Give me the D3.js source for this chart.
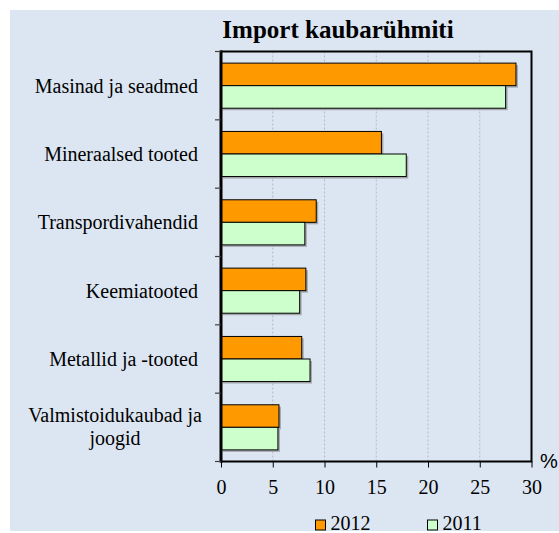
<!DOCTYPE html>
<html>
<head>
<meta charset="utf-8">
<script src="https://cdn.jsdelivr.net/npm/d3@7"></script>
<style>
  body { margin: 0; background: #fff; }
  svg text { font-family: "Liberation Serif", "DejaVu Serif", serif; fill: #000; }
</style>
</head>
<body>
<div id="chart"></div>
<script>
var categories = ["Masinad ja seadmed", "Mineraalsed tooted", "Transpordivahendid",
                  "Keemiatooted", "Metallid ja -tooted", "Valmistoidukaubad ja joogid"];
var years = ["2012", "2011"];
var values2012 = [28.5, 15.5, 9.2, 8.2, 7.8, 5.6];
var values2011 = [27.5, 17.9, 8.1, 7.6, 8.6, 5.5];
var xTicks = [0, 5, 10, 15, 20, 25, 30];

var serif = "'Liberation Serif', 'DejaVu Serif', serif";

var drawImportChart = function(id) {
  var width = 559, height = 533;
  var plot = {left: 221, right: 531.5, top: 51.5, bottom: 461.5};
  var colors = {"2012": "#ff9900", "2011": "#ccffcc"};

  var svg = d3.select(id).append("svg")
      .attr("width", width)
      .attr("height", height)
      .style("font-family", serif);

  // light blue panel
  svg.append("rect")
      .attr("x", 10).attr("y", 10)
      .attr("width", width - 10).attr("height", 521)
      .attr("fill", "#dce6f2");

  var x = d3.scaleLinear()
      .domain([0, 30])
      .range([plot.left, plot.right]);

  var y = d3.scaleBand()
      .domain(categories)
      .range([plot.top, plot.bottom])
      .paddingInner(0.34)
      .paddingOuter(0.17);

  var ySub = d3.scaleBand()
      .domain(years)
      .range([0, y.bandwidth()]);

  // dotted grid
  svg.selectAll(".grid")
      .data(xTicks.slice(1, -1))
    .enter().append("line")
      .attr("class", "grid")
      .attr("x1", function(d) { return x(d); })
      .attr("x2", function(d) { return x(d); })
      .attr("y1", plot.top)
      .attr("y2", plot.bottom)
      .attr("stroke", "#b8b8b8")
      .attr("stroke-dasharray", "2,2");

  var rows = categories.map(function(c, i) {
    return [{cat: c, year: "2012", value: values2012[i]},
            {cat: c, year: "2011", value: values2011[i]}];
  });
  var bars = [].concat.apply([], rows);

  // shadows
  svg.selectAll(".shadow")
      .data(bars)
    .enter().append("rect")
      .attr("class", "shadow")
      .attr("x", x(0) + 2)
      .attr("y", function(d) { return y(d.cat) + ySub(d.year) + 2; })
      .attr("width", function(d) { return x(d.value) - x(0); })
      .attr("height", ySub.bandwidth())
      .attr("fill", "#808080")
      .attr("opacity", 0.6);

  svg.selectAll(".bar")
      .data(bars)
    .enter().append("rect")
      .attr("class", "bar")
      .attr("x", x(0))
      .attr("y", function(d) { return y(d.cat) + ySub(d.year); })
      .attr("width", function(d) { return x(d.value) - x(0); })
      .attr("height", ySub.bandwidth())
      .attr("fill", function(d) { return colors[d.year]; })
      .attr("stroke", "#000")
      .attr("stroke-width", 1);

  // frame
  svg.append("rect")
      .attr("x", plot.left).attr("y", plot.top)
      .attr("width", plot.right - plot.left)
      .attr("height", plot.bottom - plot.top)
      .attr("fill", "none")
      .attr("stroke", "#000")
      .attr("stroke-width", 2);
  // heavier category axis line
  svg.append("line")
      .attr("x1", plot.left).attr("x2", plot.left)
      .attr("y1", plot.top - 1).attr("y2", plot.bottom + 1)
      .attr("stroke", "#000")
      .attr("stroke-width", 3);

  // category boundary ticks
  var bounds = d3.range(categories.length + 1).map(function(i) { return plot.top + i * y.step(); });
  svg.selectAll(".ytick")
      .data(bounds)
    .enter().append("line")
      .attr("class", "ytick")
      .attr("x1", plot.left - 6)
      .attr("x2", plot.left)
      .attr("y1", function(d) { return d; })
      .attr("y2", function(d) { return d; })
      .attr("stroke", "#404040")
      .attr("stroke-width", 1.2);

  // category labels
  categories.forEach(function(c) {
    var cy = y(c) + y.bandwidth() / 2;
    var lines = c === "Valmistoidukaubad ja joogid" ? ["Valmistoidukaubad ja", "joogid"] : [c];
    if (lines.length === 1) {
      svg.append("text")
          .attr("x", 198)
          .attr("y", cy + 7)
          .attr("text-anchor", "end")
          .style("font-size", "20px")
          .text(c);
    } else {
      var t = svg.append("text")
          .attr("x", 202)
          .attr("y", cy - 5)
          .attr("text-anchor", "end")
          .style("font-size", "20px")
          .text(lines[0]);
      var w = t.node().getComputedTextLength();
      svg.append("text")
          .attr("x", 202 - w / 2)
          .attr("y", cy + 18)
          .attr("text-anchor", "middle")
          .style("font-size", "20px")
          .text(lines[1]);
    }
  });

  // x axis
  var xAxis = d3.axisBottom(x)
      .tickValues(xTicks)
      .tickSize(6)
      .tickSizeOuter(0)
      .tickPadding(12);

  var gx = svg.append("g")
      .attr("transform", "translate(0," + plot.bottom + ")")
      .call(xAxis);
  gx.select(".domain").remove();
  gx.selectAll("line").attr("stroke", "#000");
  gx.attr("font-family", null).attr("font-size", null);
  gx.selectAll("text")
      .style("font-family", serif)
      .style("font-size", "20px");

  svg.append("text")
      .attr("x", 540)
      .attr("y", 468)
      .style("font-family", "'Liberation Sans', Arial, sans-serif")
      .style("font-size", "20px")
      .text("%");

  // title
  svg.append("text")
      .attr("x", 338)
      .attr("y", 38)
      .attr("text-anchor", "middle")
      .style("font-size", "25px")
      .style("font-weight", "bold")
      .text("Import kaubarühmiti");

  // legend
  var legend = svg.selectAll(".legend")
      .data(years)
    .enter().append("g")
      .attr("class", "legend")
      .attr("transform", function(d, i) { return "translate(" + (315.5 + i * 112) + ",520)"; });

  legend.append("rect")
      .attr("width", 10).attr("height", 10)
      .attr("fill", function(d) { return colors[d]; })
      .attr("stroke", "#000")
      .attr("stroke-width", 1);

  legend.append("text")
      .attr("x", 15)
      .attr("y", 10)
      .style("font-size", "20px")
      .text(function(d) { return d; });
}

drawImportChart("#chart");
</script>
</body>
</html>
